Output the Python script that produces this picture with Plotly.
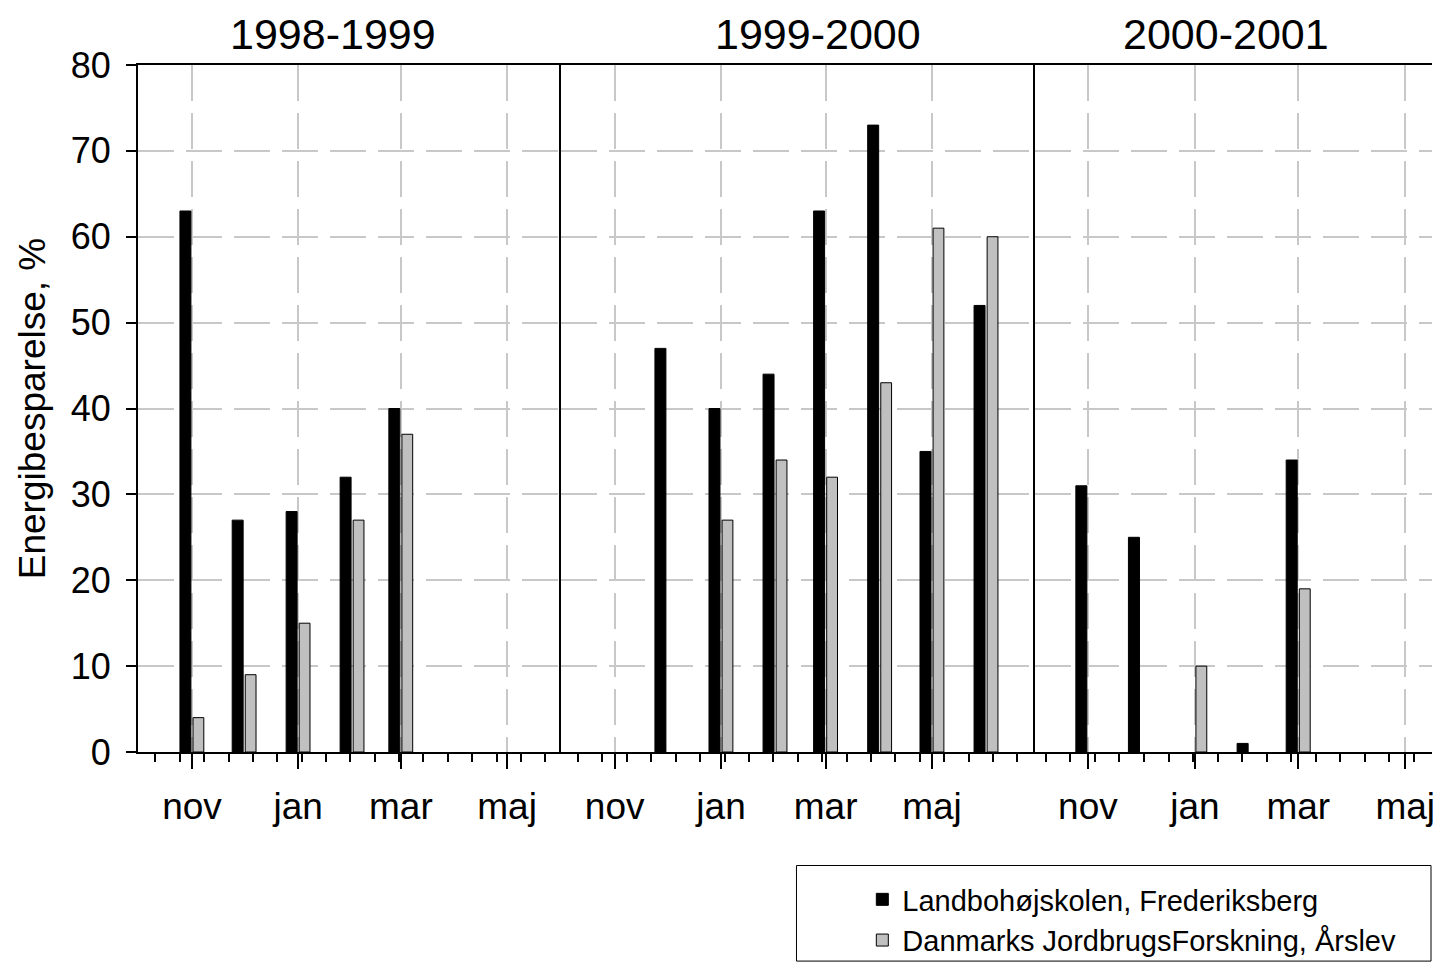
import plotly.graph_objects as go

# ---------------- data ----------------
season_titles = ["1998-1999", "1999-2000", "2000-2001"]
series_names = ["Landbohøjskolen, Frederiksberg", "Danmarks JordbrugsForskning, Årslev"]

s1_months = ["1998-11-01", "1998-12-01", "1999-01-01", "1999-02-01", "1999-03-01"]
s1_lbh = [63, 27, 28, 32, 40]
s1_djf = [4, 9, 15, 27, 37]

s2_months = ["1999-12-01", "2000-01-01", "2000-02-01", "2000-03-01", "2000-04-01", "2000-05-01", "2000-06-01"]
s2_lbh = [47, 40, 44, 63, 73, 35, 52]
s2_djf = [None, 27, 34, 32, 43, 61, 60]

s3_months = ["2000-11-01", "2000-12-01", "2001-01-01", "2001-02-01", "2001-03-01"]
s3_lbh = [31, 25, None, 1, 34]
s3_djf = [None, None, 10, None, 19]

tick_labels = ["nov", "jan", "mar", "maj"]
s1_ticks = ["1998-11-01", "1999-01-01", "1999-03-01", "1999-05-01"]
s2_ticks = ["1999-11-01", "2000-01-01", "2000-03-01", "2000-05-01"]
s3_ticks = ["2000-11-01", "2001-01-01", "2001-03-01", "2001-05-01"]

s1_range = ["1998-10-01", "1999-06-01"]
s2_range = ["1999-10-01 06:00", "2000-06-29"]
s3_range = ["2000-10-01 18:00", "2001-05-16 07:00"]
minor_start = ["1998-10-11", "1999-10-11", "2000-10-08"]

y_ticks = list(range(0, 81, 10))

# ---------------- styling ----------------
FONT = "Liberation Sans, Arial, Helvetica, sans-serif"
DAY = 86400000
BLACK = "#000000"
GRAY = "#c0c0c0"
GRID = "#c8c8c8"
DASH = "36px,12px"

# page has an 8px body margin, so the figure is shifted by 8px
OFF = 8
W, H = 1427, 958
ML, MR, MT = 138 - OFF, 0, 65 - OFF
PH = 690
MB = H - MT - PH
pw = W - ML - MR

def px(xpage):
    return (xpage - OFF - ML) / pw

def py(ypage):
    return (MT + PH - (ypage - OFF)) / PH

d1 = px(562)
d2 = px(1037)

fig = go.Figure()

seasons = [
    (s1_months, s1_lbh, s1_djf, "x", "y"),
    (s2_months, s2_lbh, s2_djf, "x2", "y2"),
    (s3_months, s3_lbh, s3_djf, "x3", "y3"),
]
for i, (months, lbh, djf, xa, ya) in enumerate(seasons):
    fig.add_trace(go.Bar(
        x=months, y=lbh, xaxis=xa, yaxis=ya,
        name=series_names[0], legendgroup="lbh", showlegend=(i == 0),
        marker=dict(color=BLACK, line=dict(color=BLACK, width=1)),
        offset=-6.9 * DAY, width=6.3 * DAY,
    ))
    fig.add_trace(go.Bar(
        x=months, y=djf, xaxis=xa, yaxis=ya,
        name=series_names[1], legendgroup="djf", showlegend=(i == 0),
        marker=dict(color=GRAY, line=dict(color=BLACK, width=1)),
        offset=0.6 * DAY, width=6.2 * DAY,
    ))

def xaxis(domain, rng, ticks, anchor, m0):
    return dict(
        type="date", domain=domain, range=rng, anchor=anchor,
        tickmode="array", tickvals=ticks, ticktext=tick_labels,
        ticks="outside", ticklen=15, tickwidth=2, tickcolor=BLACK,
        ticklabelstandoff=6, ticklabeloverflow="allow",
        tickfont=dict(size=37, color=BLACK, family=FONT),
        showgrid=True, gridcolor=GRID, gridwidth=2, griddash=DASH,
        showline=True, linecolor=BLACK, linewidth=2, mirror=True,
        zeroline=False,
        minor=dict(tickmode="linear", tick0=m0, dtick=14 * DAY,
                   ticks="outside", ticklen=8, tickwidth=2, tickcolor=BLACK,
                   showgrid=False),
    )

def yaxis(anchor, main):
    d = dict(
        range=[0, 80], anchor=anchor, tickmode="array", tickvals=y_ticks,
        showgrid=True, gridcolor=GRID, gridwidth=2, griddash=DASH,
        showline=True, linecolor=BLACK, linewidth=2, zeroline=False,
    )
    if main:
        d.update(ticks="outside", ticklen=10, tickwidth=2, tickcolor=BLACK,
                 ticklabelstandoff=8,
                 tickfont=dict(size=36, color=BLACK, family=FONT),
                 title=dict(text="Energibesparelse, %", standoff=14,
                            font=dict(size=37, color=BLACK, family=FONT)))
    else:
        d.update(matches="y", showticklabels=False, ticks="")
    return d

fig.update_layout(
    width=W, height=H,
    margin=dict(l=ML, r=MR, t=MT, b=MB),
    paper_bgcolor="white", plot_bgcolor="white",
    font=dict(family=FONT, color=BLACK),
    barmode="overlay",
    xaxis=xaxis([0, d1], s1_range, s1_ticks, "y", minor_start[0]),
    xaxis2=xaxis([d1, d2], s2_range, s2_ticks, "y2", minor_start[1]),
    xaxis3=xaxis([d2, 1], s3_range, s3_ticks, "y3", minor_start[2]),
    yaxis=yaxis("x", True),
    yaxis2=yaxis("x2", False),
    yaxis3=yaxis("x3", False),
    showlegend=True,
    legend=dict(
        x=px(864), y=py(878), xanchor="left", yanchor="top",
        font=dict(size=29, color=BLACK, family=FONT),
        bgcolor="rgba(0,0,0,0)", borderwidth=0, tracegroupgap=0,
    ),
)

# panel titles
title_centers = [333, 820, 1229]
for t, cx in zip(season_titles, title_centers):
    fig.add_annotation(
        text=t, xref="paper", yref="paper", x=px(cx), y=1,
        xanchor="center", yanchor="bottom", yshift=5, showarrow=False,
        font=dict(size=43, color=BLACK, family=FONT),
    )

# legend frame
fig.add_shape(
    type="rect", xref="paper", yref="paper",
    x0=px(798), x1=px(1434), y0=py(965), y1=py(869),
    line=dict(color=BLACK, width=1), fillcolor="rgba(0,0,0,0)",
)

fig.write_html("out.html")
